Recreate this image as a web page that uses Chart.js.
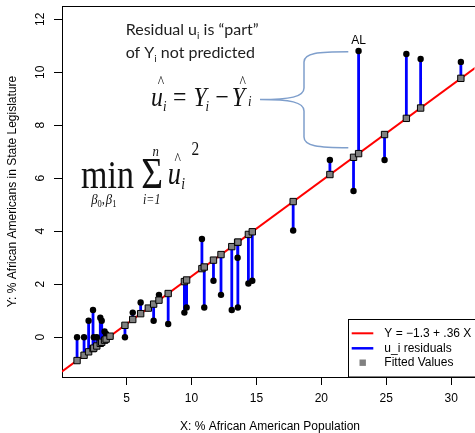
<!DOCTYPE html>
<html>
<head>
<meta charset="utf-8">
<script src="https://cdn.jsdelivr.net/npm/chart.js@4.4.0/dist/chart.umd.min.js"></script>
<style>
html, body { margin: 0; padding: 0; background: #fff; overflow: hidden; }
#wrap { width: 480px; height: 433px; }
</style>
</head>
<body>
<div id="wrap"><canvas id="mycanvas"></canvas></div>
<script>
// % African American population (x) and % in state legislature (y)
var pctPop = [1.18, 1.72, 2.07, 2.41, 2.47, 2.70, 2.97, 3.08, 3.30, 3.42, 3.72,
              4.87, 5.47, 6.08, 6.67, 7.08, 7.49, 8.20, 9.45, 9.62, 10.80, 10.98,
              11.69, 12.27, 13.10, 13.55, 13.57, 14.38, 14.68, 17.83, 20.66, 22.48,
              22.87, 24.87, 26.55, 27.65, 30.75];
var pctLeg = [0.00, 0.00, 0.62, 1.03, 0.00, 0.00, 0.74, 0.62, 0.22, 0.12, 0.02,
              0.00, 0.93, 1.31, 1.10, 0.62, 1.60, 0.50, 0.93, 1.12, 3.71, 1.12,
              2.13, 1.60, 1.03, 3.00, 1.12, 2.03, 2.13, 4.03, 6.69, 5.52,
              10.80, 6.69, 10.69, 10.50, 10.39];
var fitted = [-0.88, -0.68, -0.55, -0.43, -0.41, -0.33, -0.23, -0.19, -0.11, -0.07, 0.04,
              0.45, 0.67, 0.89, 1.10, 1.25, 1.40, 1.65, 2.10, 2.16, 2.59, 2.65,
              2.91, 3.12, 3.42, 3.58, 3.59, 3.88, 3.98, 5.12, 6.14, 6.79,
              6.93, 7.65, 8.26, 8.65, 9.77];
var lineX = [0, 32];
var lineY = [-1.3, 10.22];
var xTicks = [5, 10, 15, 20, 25, 30];
var yTicks = [0, 2, 4, 6, 8, 10, 12];
var labelIndex = 32;
var labelText = "AL";

var SANS = "'Liberation Sans', Arial, sans-serif";
var SERIF = "'Liberation Serif', 'Times New Roman', serif";
var NOTE = "Lato, 'Open Sans', sans-serif";

var obsPts = [], fitPts = [], resPts = [], regPts = [];
for (var i = 0; i < pctPop.length; i++) {
    obsPts.push({x: pctPop[i], y: pctLeg[i]});
    fitPts.push({x: pctPop[i], y: fitted[i]});
    resPts.push({x: pctPop[i], y: pctLeg[i]});
    resPts.push({x: pctPop[i], y: fitted[i]});
    resPts.push({x: pctPop[i], y: null});
}
for (var j = 0; j < lineX.length; j++) {
    regPts.push({x: lineX[j], y: lineY[j]});
}

function txt(ctx, s, x, y, font, align) {
    ctx.font = font;
    ctx.textAlign = align || 'left';
    ctx.fillText(s, x, y);
    return x + ctx.measureText(s).width;
}

var extras = {
    id: 'extras',
    afterDraw: function (chart) {
        var ctx = chart.ctx, a = chart.chartArea;
        var xs = chart.scales.x, ys = chart.scales.y;
        var W = 475;
        ctx.save();

        // top of the box
        ctx.strokeStyle = '#000';
        ctx.lineWidth = 1;
        ctx.beginPath();
        ctx.moveTo(a.left, a.top + 0.5);
        ctx.lineTo(chart.width, a.top + 0.5);
        ctx.stroke();

        // y tick labels, rotated like R
        ctx.fillStyle = '#000';
        ctx.textBaseline = 'middle';
        yTicks.forEach(function (v) {
            ctx.save();
            ctx.translate(40.7, ys.getPixelForValue(v));
            ctx.rotate(-Math.PI / 2);
            txt(ctx, String(v), 0, 0, '12px ' + SANS, 'center');
            ctx.restore();
        });

        // axis titles
        ctx.save();
        ctx.translate(12.5, (a.top + a.bottom) / 2);
        ctx.rotate(-Math.PI / 2);
        txt(ctx, 'Y: % African Americans in State Legislature', 0, 0, '12px ' + SANS, 'center');
        ctx.restore();
        txt(ctx, 'X: % African American Population', 270, 427, '12px ' + SANS, 'center');

        // label for AL
        ctx.textBaseline = 'alphabetic';
        var lx = xs.getPixelForValue(pctPop[labelIndex]);
        var ly = ys.getPixelForValue(pctLeg[labelIndex]);
        txt(ctx, labelText, lx, ly - 7, '12px ' + SANS, 'center');

        // note text
        ctx.fillStyle = '#1e1e1e';
        var x0 = 125.7;
        var e = txt(ctx, 'Residual u', x0, 35, '16px ' + NOTE);
        e = txt(ctx, 'i', e, 38.5, '10px ' + NOTE);
        txt(ctx, ' is \u201cpart\u201d', e, 35, '16px ' + NOTE);
        e = txt(ctx, 'of Y', x0, 58, '16px ' + NOTE);
        e = txt(ctx, 'i', e, 61.5, '10px ' + NOTE);
        txt(ctx, ' not predicted', e, 58, '16px ' + NOTE);

        // u_i = Y_i - Yhat_i
        ctx.fillStyle = '#111';
        ctx.save();
        ctx.translate(151, 0);
        ctx.scale(0.85, 1);
        var it = 'italic 28px ' + SERIF, sm = 'italic 15px ' + SERIF;
        txt(ctx, 'u', 0, 106, it);
        txt(ctx, '^', 8, 87, '16px ' + SERIF);
        txt(ctx, 'i', 14, 111, sm);
        txt(ctx, '=', 26, 106, '28px ' + SERIF);
        txt(ctx, 'Y', 50, 106, it);
        txt(ctx, 'i', 64, 111, sm);
        txt(ctx, '\u2212', 76, 106, '28px ' + SERIF);
        txt(ctx, 'Y', 95, 106, it);
        txt(ctx, '^', 104, 87, '16px ' + SERIF);
        txt(ctx, 'i', 114, 106, sm);
        ctx.restore();

        // min sum u_i^2
        ctx.save();
        ctx.translate(81, 0);
        ctx.scale(0.85, 1);
        txt(ctx, 'min', 0, 188, '40px ' + SERIF);
        txt(ctx, '\u03a3', 71, 188, '44px ' + SERIF);
        txt(ctx, 'n', 84, 156, 'italic 15px ' + SERIF);
        txt(ctx, 'i=1', 73, 204, 'italic 14px ' + SERIF);
        e = txt(ctx, '\u03b2', 12, 204, 'italic 15px ' + SERIF);
        e = txt(ctx, '0', e, 207, '10px ' + SERIF);
        e = txt(ctx, ',', e, 204, '15px ' + SERIF);
        e = txt(ctx, '\u03b2', e + 1, 204, 'italic 15px ' + SERIF);
        txt(ctx, '1', e, 207, '10px ' + SERIF);
        txt(ctx, 'u', 102, 184, 'italic 31px ' + SERIF);
        txt(ctx, '^', 110, 164, '16px ' + SERIF);
        txt(ctx, 'i', 118, 189, 'italic 16px ' + SERIF);
        txt(ctx, '2', 130, 155, '18px ' + SERIF);
        ctx.restore();

        // brace
        ctx.strokeStyle = '#7f9fcc';
        ctx.lineWidth = 1.5;
        ctx.beginPath();
        ctx.moveTo(348.3, 51.7);
        ctx.bezierCurveTo(318, 51.7, 304, 53, 304, 62);
        ctx.lineTo(304, 88);
        ctx.bezierCurveTo(304, 97, 290, 99.5, 260, 99.5);
        ctx.bezierCurveTo(290, 99.5, 304, 102, 304, 111);
        ctx.lineTo(304, 137);
        ctx.bezierCurveTo(304, 146, 318, 147.7, 348.3, 147.7);
        ctx.stroke();

        // legend
        var bx = 348.5, by = 319.5;
        ctx.fillStyle = '#fff';
        ctx.fillRect(bx, by, chart.width - bx, a.bottom - by);
        ctx.strokeStyle = '#000';
        ctx.lineWidth = 1;
        ctx.strokeRect(bx, by, chart.width - bx + 5, a.bottom - by);
        var rows = [333.3, 348.3, 362.7];
        var dsReg = chart.data.datasets[3], dsRes = chart.data.datasets[2], dsFit = chart.data.datasets[0];
        ctx.lineWidth = 2;
        ctx.strokeStyle = dsReg.borderColor;
        ctx.beginPath(); ctx.moveTo(351.7, rows[0]); ctx.lineTo(373.3, rows[0]); ctx.stroke();
        ctx.lineWidth = 2.5;
        ctx.strokeStyle = dsRes.borderColor;
        ctx.beginPath(); ctx.moveTo(351.7, rows[1]); ctx.lineTo(373.3, rows[1]); ctx.stroke();
        ctx.fillStyle = dsFit.backgroundColor;
        ctx.fillRect(359.5, rows[2] - 3.2, 6.4, 6.4);
        ctx.fillStyle = '#000';
        ctx.textBaseline = 'middle';
        txt(ctx, dsReg.label, 384.3, rows[0], '12px ' + SANS);
        txt(ctx, dsRes.label, 384.3, rows[1], '12px ' + SANS);
        txt(ctx, dsFit.label, 384.3, rows[2], '12px ' + SANS);

        ctx.restore();
    }
};

var ctx = document.getElementById('mycanvas');
var chart = new Chart(ctx, {
    type: 'scatter',
    data: {
        datasets: [
            {
                label: 'Fitted Values',
                data: fitPts,
                pointStyle: 'rect',
                pointRadius: 4.5,
                backgroundColor: '#808080',
                borderColor: '#000',
                borderWidth: 1,
                order: 0
            },
            {
                label: 'Observed',
                data: obsPts,
                pointRadius: 3.2,
                backgroundColor: '#000',
                borderColor: '#000',
                borderWidth: 0,
                order: 1
            },
            {
                label: 'u_i residuals',
                data: resPts,
                showLine: true,
                spanGaps: false,
                borderColor: '#0000ff',
                borderWidth: 2.8,
                pointRadius: 0,
                order: 2
            },
            {
                label: 'Y = \u22121.3 + .36 X',
                data: regPts,
                showLine: true,
                borderColor: '#ff0000',
                borderWidth: 2,
                pointRadius: 0,
                order: 3
            }
        ]
    },
    options: {
        responsive: true,
        maintainAspectRatio: false,
        animation: false,
        devicePixelRatio: 1,
        layout: { padding: { top: 6, left: 0, right: 0, bottom: 0 } },
        plugins: { legend: { display: false }, tooltip: { enabled: false } },
        scales: {
            x: {
                type: 'linear',
                min: 0.02,
                max: 31.8,
                afterBuildTicks: function (s) { s.ticks = xTicks.map(function (v) { return {value: v}; }); },
                afterFit: function (s) { s.height = 56; },
                grid: { drawOnChartArea: false, drawTicks: true, tickLength: 8, color: '#000' },
                border: { display: true, color: '#000', width: 1 },
                ticks: { color: '#000', font: { family: SANS, size: 12 }, padding: 6, maxRotation: 0, autoSkip: false }
            },
            y: {
                type: 'linear',
                min: -1.5,
                max: 12.5,
                afterBuildTicks: function (s) { s.ticks = yTicks.map(function (v) { return {value: v}; }); },
                afterFit: function (s) { s.width = 62; },
                grid: { drawOnChartArea: false, drawTicks: true, tickLength: 8, color: '#000' },
                border: { display: true, color: '#000', width: 1 },
                ticks: { display: false }
            }
        }
    },
    plugins: [extras]
});
</script>
</body>
</html>
